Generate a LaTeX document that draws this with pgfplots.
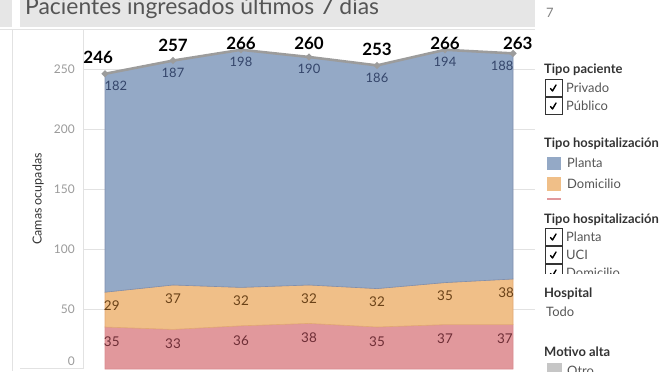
\documentclass[border=0pt]{standalone}
\usepackage{pgfplots}
\pgfplotsset{compat=1.18}
\usepackage{pgfplotstable}
\usepackage{fontspec}
\setmainfont{Lato}
\definecolor{cBlue}{HTML}{94A9C6}
\definecolor{cBlueD}{HTML}{7F8FAE}
\definecolor{cOrange}{HTML}{F0BF88}
\definecolor{cOrangeD}{HTML}{E2A872}
\definecolor{cPink}{HTML}{E1989C}
\definecolor{cPinkD}{HTML}{D98A8F}
\definecolor{cLine}{HTML}{9C9C9C}
\definecolor{cTick}{HTML}{9A9A9A}
\definecolor{cHead}{HTML}{333333}
\definecolor{cItem}{HTML}{555555}
\definecolor{cBlueT}{HTML}{34456A}
\definecolor{cOrangeT}{HTML}{6A4218}
\definecolor{cPinkT}{HTML}{6E2E36}
\definecolor{cBar}{HTML}{E6E6E6}
\definecolor{cRule}{HTML}{E2E2E2}

\pgfplotstableread{
x tx ty total bx planta ox domicilio px uci
0 -0.10 260 246 0.16 182 0.10 29 0.10 35
1 1 270 257 1 187 1 37 1 33
2 2 271 266 2 198 2 32 2 36
3 3 271 260 3 190 3 32 3 38
4 4 266 253 4 186 4 32 4 35
5 5 271 266 5 194 5 35 5 37
6 6.07 271 263 5.84 188 5.90 38 5.88 37
}\datatable

\newcommand{\chk}[2]{%
  \draw[cHead, line width=0.8bp] (#1,#2-8.5) rectangle (#1+17,#2+8.5);
  \draw[black, line width=1.4bp, line cap=round, line join=round] (#1+5.5,#2-0.5) -- (#1+7.5,#2-3) -- (#1+11,#2+3);
}

\begin{document}
\begin{tikzpicture}[x=1bp,y=1bp]
\useasboundingbox (0,0) rectangle (660,371);
\clip (0,0) rectangle (660,371);

% background panels
\fill[cBar] (0,344) rectangle (12,371);
\fill[cBar] (20,344) rectangle (535,371);
\draw[cRule, line width=0.8bp] (0,342) -- (535,342);
\draw[cRule, line width=0.8bp] (12,0) -- (12,342);
\draw[cRule, line width=0.8bp] (83,2) -- (83,342);
\draw[cRule, line width=0.8bp] (20,3) -- (83,3);
\node[anchor=base west, inner sep=0, text=cItem, font=\fontsize{23}{26}\selectfont] at (25,357) {Pacientes ingresados últimos 7 días};

\begin{axis}[
  at={(0,0)}, anchor=south west,
  scale only axis, width=660bp, height=371bp,
  xmin=-1.5441, xmax=8.1618, ymin=-1.6667, ymax=307.5,
  clip=false,
  axis line style={draw=none},
  xtick=\empty,
  ytick={50,100,150,200,250},
  major tick length=0pt,
  yticklabel style={font=\fontsize{12}{12}\selectfont, text=cTick, anchor=east, inner sep=0pt, xshift=75bp},
  /pgf/number format/assume math mode=true,
]
\foreach \g in {50,100,150,200,250} {
  \edef\temp{\noexpand\draw[cRule, line width=0.6bp] (axis cs:-0.3235,\g) -- (axis cs:6.3235,\g);}
  \temp
}
\addplot[stack plots=y, fill=cPink, draw=cPinkD, line width=0.6bp] table[x=x, y=uci] {\datatable} \closedcycle;
\addplot[stack plots=y, fill=cOrange, draw=cOrangeD, line width=0.6bp] table[x=x, y=domicilio] {\datatable} \closedcycle;
\addplot[stack plots=y, fill=cBlue, draw=cBlueD, line width=0.6bp] table[x=x, y=planta] {\datatable} \closedcycle;

\addplot[cLine, line width=2.6bp, mark=*, mark size=1.8bp, mark options={fill=cLine!85!black, draw=none}] table[x=x, y=total] {\datatable};

\addplot[draw=none, mark=none, nodes near coords, point meta=explicit symbolic,
  every node near coord/.style={anchor=center, inner sep=0, font=\fontsize{17}{17}\selectfont\bfseries, text=black}]
  table[x=tx, y=ty, meta=total] {\datatable};
\addplot[draw=none, mark=none, nodes near coords, point meta=explicit symbolic,
  every node near coord/.style={anchor=center, inner sep=0, font=\fontsize{13}{13}\selectfont, text=cBlueT}]
  table[x=bx, y expr=\thisrow{total}-10, meta=planta] {\datatable};
\addplot[draw=none, mark=none, nodes near coords, point meta=explicit symbolic,
  every node near coord/.style={anchor=center, inner sep=0, font=\fontsize{13.5}{13.5}\selectfont, text=cOrangeT}]
  table[x=ox, y expr=\thisrow{uci}+\thisrow{domicilio}-11, meta=domicilio] {\datatable};
\addplot[draw=none, mark=none, nodes near coords, point meta=explicit symbolic,
  every node near coord/.style={anchor=center, inner sep=0, font=\fontsize{13.5}{13.5}\selectfont, text=cPinkT}]
  table[x=px, y expr=\thisrow{uci}-12, meta=uci] {\datatable};
\end{axis}

\node[anchor=east, inner sep=0, text=cTick, font=\fontsize{12}{12}\selectfont] at (75,10) {0};
\node[rotate=90, inner sep=0, text=cHead, font=\fontsize{12.5}{12.5}\selectfont] at (38,172) {Camas ocupadas};

% right panel
\node[anchor=west, inner sep=0, text=gray, font=\fontsize{13}{13}\selectfont] at (546,358) {7};
\node[anchor=west, inner sep=0, text=cHead, font=\fontsize{13}{13}\selectfont\bfseries] at (544,301) {Tipo paciente};
\chk{545}{283}
\chk{545}{265}
\node[anchor=west, inner sep=0, text=cItem, font=\fontsize{13}{13}\selectfont] at (566,283) {Privado};
\node[anchor=west, inner sep=0, text=cItem, font=\fontsize{13}{13}\selectfont] at (566,265) {Público};

\node[anchor=west, inner sep=0, text=cHead, font=\fontsize{13}{13}\selectfont\bfseries] at (544,227) {Tipo hospitalización};
\fill[cBlue] (547,201) rectangle (561,214);
\fill[cOrange] (547,180) rectangle (561,194);
\draw[cPink, line width=2.5bp] (547,172) -- (561,172);
\node[anchor=west, inner sep=0, text=cItem, font=\fontsize{13}{13}\selectfont] at (567,208) {Planta};
\node[anchor=west, inner sep=0, text=cItem, font=\fontsize{13}{13}\selectfont] at (567,187) {Domicilio};

\node[anchor=west, inner sep=0, text=cHead, font=\fontsize{13}{13}\selectfont\bfseries] at (544,151) {Tipo hospitalización};
\begin{scope}
\clip (540,98) rectangle (660,145);
\chk{545}{134}
\chk{545}{116}
\chk{545}{98}
\node[anchor=west, inner sep=0, text=cItem, font=\fontsize{13}{13}\selectfont] at (566,134) {Planta};
\node[anchor=west, inner sep=0, text=cItem, font=\fontsize{13}{13}\selectfont] at (566,116) {UCI};
\node[anchor=west, inner sep=0, text=cItem, font=\fontsize{13}{13}\selectfont] at (566,98) {Domicilio};
\end{scope}

\node[anchor=west, inner sep=0, text=cHead, font=\fontsize{13}{13}\selectfont\bfseries] at (544,77) {Hospital};
\node[anchor=west, inner sep=0, text=cItem, font=\fontsize{13}{13}\selectfont] at (546,59) {Todo};
\node[anchor=west, inner sep=0, text=cHead, font=\fontsize{13}{13}\selectfont\bfseries] at (544,19) {Motivo alta};
\fill[gray!45] (547,-5) rectangle (562,8);
\node[anchor=west, inner sep=0, text=cItem, font=\fontsize{13}{13}\selectfont] at (567,0) {Otro};
\end{tikzpicture}
\end{document}
